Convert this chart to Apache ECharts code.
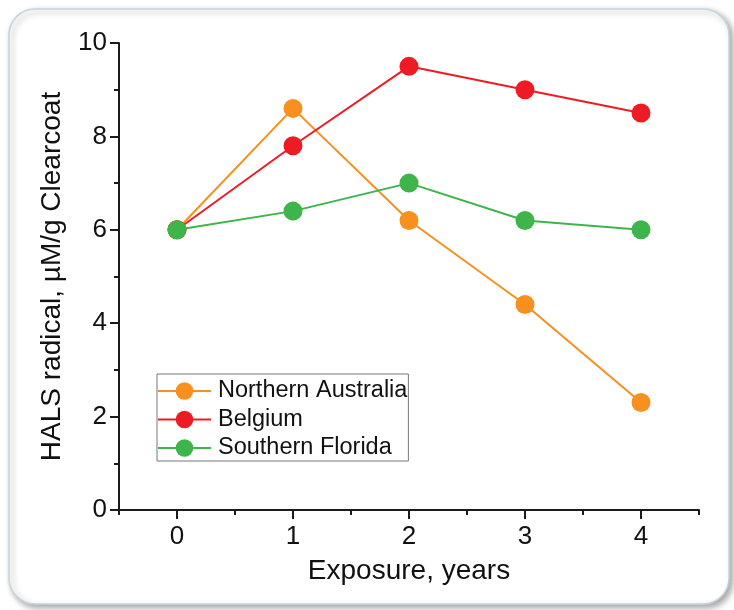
<!DOCTYPE html>
<html>
<head>
<meta charset="utf-8">
<script src="https://cdn.jsdelivr.net/npm/echarts@6/dist/echarts.min.js"></script>
<style>
html,body{margin:0;padding:0;background:#fff;}
#chart{width:734px;height:610px;}
</style>
</head>
<body>
<div id="chart"></div>
<script>
const years = [0, 1, 2, 3, 4];
const northernAustralia = [6.0, 8.6, 6.2, 4.4, 2.3];
const belgium = [6.0, 7.8, 9.5, 9.0, 8.5];
const southernFlorida = [6.0, 6.4, 7.0, 6.2, 6.0];
const seriesNames = ['Northern Australia', 'Belgium', 'Southern Florida'];
const xMajorTicks = [0, 1, 2, 3, 4];
const xMinorTicks = [-0.5, 0.5, 1.5, 2.5, 3.5, 4.5];

const FONT = '"Liberation Sans", Arial, sans-serif';
const AX = '#1a1a1a';
const pairs = arr => years.map((x, i) => [x, arr[i]]);

const chart = echarts.init(document.getElementById('chart'));
const mkSeries = (name, arr, color) => ({
  name, type: 'line', data: pairs(arr), xAxisIndex: 0,
  symbol: 'circle', symbolSize: 19,
  lineStyle: { color, width: 2 },
  itemStyle: { color },
  emphasis: { disabled: true },
  animation: false
});

chart.setOption({
  animation: false,
  backgroundColor: '#fff',
  graphic: [{
    type: 'rect', z: -10, silent: true,
    shape: { x: 9, y: 9, width: 720, height: 595, r: 26 },
    style: { fill: '#fff', stroke: '#c6d4dd', lineWidth: 1.5,
      shadowBlur: 6, shadowOffsetX: 3, shadowOffsetY: 3, shadowColor: 'rgba(0,0,0,0.35)' }
  }],
  grid: { left: 119, right: 35, top: 43, bottom: 100, containLabel: false },
  legend: {
    data: seriesNames,
    orient: 'vertical',
    left: 157, top: 374,
    itemWidth: 53, itemHeight: 22, itemGap: 4.5,
    borderColor: '#777', borderWidth: 1,
    padding: [5, 1, 1, 0],
    textStyle: { fontFamily: FONT, fontSize: 23.5, color: '#111', lineHeight: 24, padding: [0, 0, 0, 2] },
    selectedMode: false
  },
  xAxis: [{
    type: 'value', min: -0.5, max: 4.5,
    name: 'Exposure, years', nameLocation: 'middle', nameGap: 47,
    nameTextStyle: { fontFamily: FONT, fontSize: 28, color: '#111' },
    axisLine: { show: true, onZero: false, lineStyle: { color: AX, width: 2 } },
    axisTick: { show: true, inside: false, length: 9, customValues: xMajorTicks, lineStyle: { color: AX, width: 2 } },
    axisLabel: { show: true, margin: 14, customValues: xMajorTicks, fontFamily: FONT, fontSize: 26, color: '#111' },
    splitLine: { show: false }
  }, {
    type: 'value', min: -0.5, max: 4.5, position: 'bottom',
    axisLine: { show: false },
    axisTick: { show: true, length: 5, customValues: xMinorTicks, lineStyle: { color: AX, width: 2 } },
    axisLabel: { show: false },
    splitLine: { show: false }
  }],
  yAxis: {
    type: 'value', min: 0, max: 10, interval: 2,
    name: 'HALS radical, \u00b5M/g Clearcoat', nameLocation: 'middle', nameGap: 53,
    nameTextStyle: { fontFamily: FONT, fontSize: 28, color: '#111' },
    axisLine: { show: true, onZero: false, lineStyle: { color: AX, width: 2 } },
    axisTick: { show: true, length: 9, lineStyle: { color: AX, width: 2 } },
    minorTick: { show: true, splitNumber: 2, length: 5, lineStyle: { color: AX, width: 2 } },
    axisLabel: { margin: 12, fontFamily: FONT, fontSize: 26, color: '#111' },
    splitLine: { show: false },
    minorSplitLine: { show: false }
  },
  series: [
    mkSeries(seriesNames[0], northernAustralia, '#f7901e'),
    mkSeries(seriesNames[1], belgium, '#ed1c24'),
    mkSeries(seriesNames[2], southernFlorida, '#3db54a')
  ]
});
</script>
</body>
</html>
